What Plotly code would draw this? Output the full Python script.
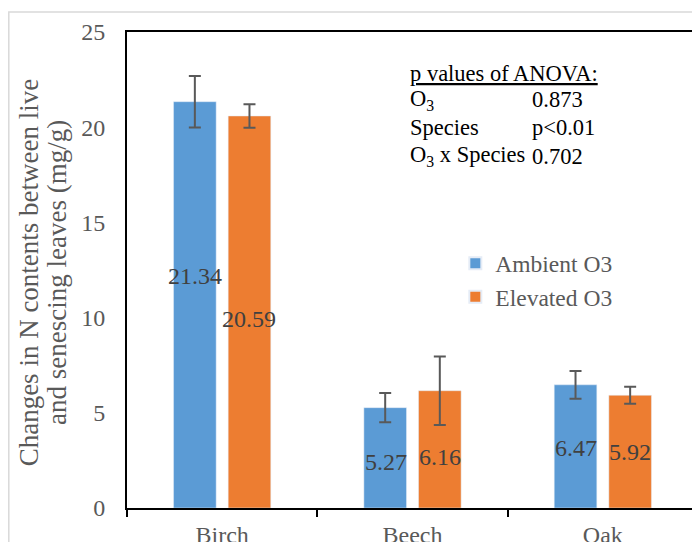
import plotly.graph_objects as go

species = ["Birch", "Beech", "Oak"]
ambient = [21.34, 5.27, 6.47]
elevated = [20.59, 6.16, 5.92]
ambient_err = [1.35, 0.77, 0.73]
elevated_err = [0.62, 1.80, 0.45]
# vertical placement of the value labels (data units)
ambient_label_y = [12.2, 2.4, 3.15]
elevated_label_y = [9.95, 2.7, 2.95]

anova_left = ["<u>p values of ANOVA:</u>", "O<sub>3</sub>", "Species", "O<sub>3</sub> x Species"]
anova_right = ["", "0.873", "p<0.01", "0.702"]

y_title_lines = ["Changes in N contents between live", "and senescing leaves (mg/g)"]

BLUE = "#5B9BD5"
ORANGE = "#ED7D31"
GRAY = "#595959"
LABEL = "#404040"
FONT = "Liberation Serif, Times New Roman, serif"

fig = go.Figure()
fig.add_trace(go.Bar(
    name="Ambient O3", x=species, y=ambient, marker=dict(color=BLUE),
    error_y=dict(type="data", array=ambient_err, visible=True, color=GRAY, thickness=2, width=6),
))
fig.add_trace(go.Bar(
    name="Elevated O3", x=species, y=elevated, marker=dict(color=ORANGE),
    error_y=dict(type="data", array=elevated_err, visible=True, color=GRAY, thickness=2, width=6),
))

# value labels
for i, s in enumerate(species):
    fig.add_annotation(x=s, y=ambient_label_y[i], text=f"{ambient[i]:.2f}", showarrow=False,
                       xshift=-27, font=dict(family=FONT, size=24, color=LABEL))
    fig.add_annotation(x=s, y=elevated_label_y[i], text=f"{elevated[i]:.2f}", showarrow=False,
                       xshift=27, font=dict(family=FONT, size=24, color=LABEL))

# ANOVA text block
ys = [0.912, 0.858, 0.800, 0.739]
for t, yv in zip(anova_left, ys):
    fig.add_annotation(xref="paper", yref="paper", x=0.492, y=yv, text=t, showarrow=False,
                       xanchor="left", yanchor="middle", font=dict(family=FONT, size=22.5, color="black"))
for t, yv in zip(anova_right, ys):
    if t:
        fig.add_annotation(xref="paper", yref="paper", x=0.706, y=yv, text=t, showarrow=False,
                           xanchor="left", yanchor="middle", font=dict(family=FONT, size=22.5, color="black"))

# y-axis title (two lines)
for t, xv in zip(y_title_lines, [-0.1725, -0.1225]):
    fig.add_annotation(xref="paper", yref="paper", x=xv, y=0.494, text=t, showarrow=False,
                       textangle=-90, xanchor="center", yanchor="middle",
                       font=dict(family=FONT, size=27, color=GRAY))

# outer light frame
fig.add_shape(type="rect", xref="paper", yref="paper", x0=-0.207, x1=1.2, y0=-0.3, y1=1.042,
              line=dict(color="#D9D9D9", width=1.5), layer="below")

fig.update_layout(
    width=692, height=534,
    margin=dict(l=119, r=2, t=24, b=34, autoexpand=False),
    paper_bgcolor="white", plot_bgcolor="white",
    barmode="group", bargap=0.426, bargroupgap=0.22,
    showlegend=True,
    legend=dict(x=0.575, y=0.56, xanchor="left", yanchor="top", bgcolor="rgba(0,0,0,0)",
                font=dict(family=FONT, size=23.5, color=GRAY), itemsizing="constant"),
    font=dict(family=FONT),
)
fig.update_xaxes(
    automargin=False,
    showline=True, linecolor="black", linewidth=2, mirror=True,
    ticks="outside", tickson="boundaries", ticklen=7, tickwidth=2, tickcolor="black",
    ticklabelstandoff=4,
    tickfont=dict(family=FONT, size=24, color=GRAY), showgrid=False,
)
fig.update_yaxes(
    automargin=False,
    range=[0, 25], tickvals=[0, 5, 10, 15, 20, 25],
    showline=True, linecolor="black", linewidth=2, mirror=True,
    showgrid=False, zeroline=False, ticks="", ticklabelstandoff=15,
    tickfont=dict(family=FONT, size=24, color=GRAY),
)

fig.write_html("out.html")
